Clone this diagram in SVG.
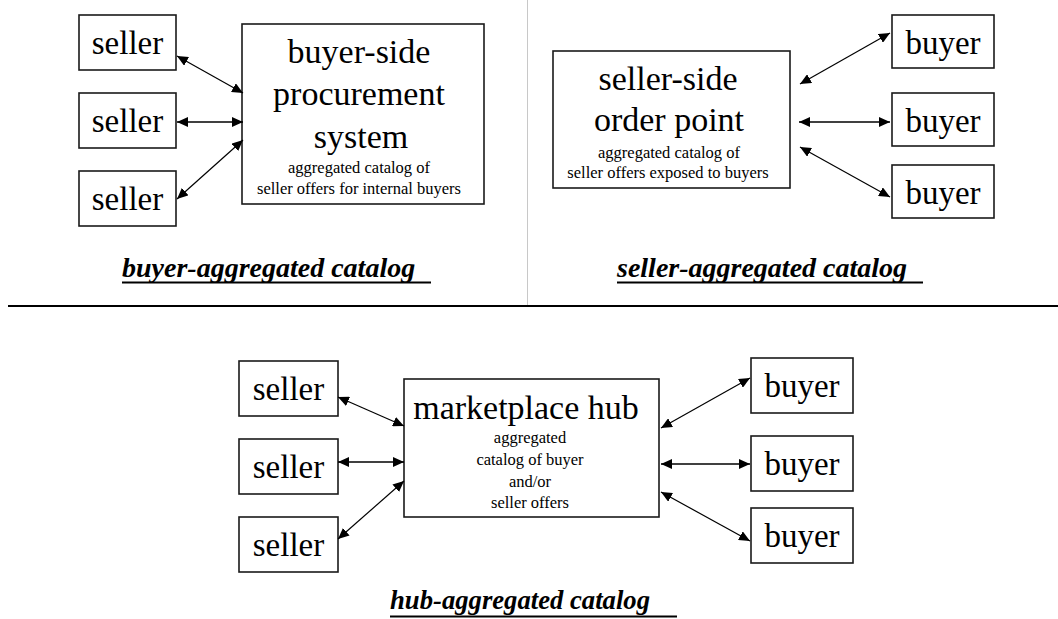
<svg xmlns="http://www.w3.org/2000/svg" width="1058" height="619" viewBox="0 0 1058 619">
  <style>
    text { font-family: 'Liberation Serif', 'DejaVu Serif', serif; fill: #000; }
    .box { fill: #ffffff; stroke: #1a1a1a; stroke-width: 1.6; }
    .big { font-size: 34px; text-anchor: middle; }
    .node { font-size: 33px; text-anchor: middle; }
    .small { font-size: 16.5px; text-anchor: middle; }
    .label { font-size: 28px; font-weight: bold; font-style: italic; }
    .uline { stroke: #000; stroke-width: 2.2; }
    .link { fill: none; stroke: #000; stroke-width: 1.2; marker-start: url(#head); marker-end: url(#head); }
    .link.h { stroke-width: 1.6; }
  </style>
  <defs>
    <marker id="head" markerUnits="userSpaceOnUse" markerWidth="12" markerHeight="10" refX="11" refY="5" orient="auto-start-reverse">
      <path d="M0,0 L11,5 L0,10 Z" fill="#000"/>
    </marker>
  </defs>

  <rect width="1058" height="619" fill="#ffffff"/>

  <!-- section dividers -->
  <g id="dividers">
    <line x1="527.5" y1="0" x2="527.5" y2="305" stroke="#c8c8c8" stroke-width="1"/>
    <line x1="8" y1="306" x2="1058" y2="306" stroke="#000" stroke-width="2.2"/>
  </g>

  <g font-family="'Liberation Serif', 'DejaVu Serif', serif">
  <!-- buyer-aggregated catalog -->
  <g id="ba-seller-1"><rect class="box" x="79" y="15" width="97" height="55"/><text class="node" x="127.5" y="54">seller</text></g>
  <g id="ba-seller-2"><rect class="box" x="79" y="93" width="97" height="55"/><text class="node" x="127.5" y="132">seller</text></g>
  <g id="ba-seller-3"><rect class="box" x="79" y="171" width="97" height="55"/><text class="node" x="127.5" y="210">seller</text></g>
  <g id="ba-procurement">
    <rect class="box" x="242" y="24" width="242" height="180"/>
    <text class="big" x="359" y="63">buyer-side</text>
    <text class="big" x="359" y="105">procurement</text>
    <text class="big" x="361" y="148">system</text>
    <text class="small" x="359" y="173">aggregated catalog of</text>
    <text class="small" x="359" y="194">seller offers for internal buyers</text>
  </g>
  <g id="ba-label">
    <text class="label" x="122" y="277">buyer-aggregated catalog</text>
    <line class="uline" x1="122" y1="282.5" x2="431" y2="282.5"/>
  </g>

  <!-- seller-aggregated catalog -->
  <g id="sa-order-point">
    <rect class="box" x="553" y="51" width="237" height="137"/>
    <text class="big" x="668" y="90">seller-side</text>
    <text class="big" x="669" y="131">order point</text>
    <text class="small" x="669" y="158">aggregated catalog of</text>
    <text class="small" x="668" y="178">seller offers exposed to buyers</text>
  </g>
  <g id="sa-buyer-1"><rect class="box" x="892" y="15" width="102" height="53"/><text class="node" x="943" y="54">buyer</text></g>
  <g id="sa-buyer-2"><rect class="box" x="892" y="93" width="102" height="53"/><text class="node" x="943" y="132">buyer</text></g>
  <g id="sa-buyer-3"><rect class="box" x="892" y="165" width="102" height="53"/><text class="node" x="943" y="204">buyer</text></g>
  <g id="sa-label">
    <text class="label" x="617" y="277">seller-aggregated catalog</text>
    <line class="uline" x1="617" y1="282.5" x2="923" y2="282.5"/>
  </g>

  <!-- hub-aggregated catalog -->
  <g id="hub-seller-1"><rect class="box" x="239" y="361" width="99" height="55"/><text class="node" x="288.5" y="400">seller</text></g>
  <g id="hub-seller-2"><rect class="box" x="239" y="439" width="99" height="55"/><text class="node" x="288.5" y="478">seller</text></g>
  <g id="hub-seller-3"><rect class="box" x="239" y="517" width="99" height="55"/><text class="node" x="288.5" y="556">seller</text></g>
  <g id="hub-marketplace">
    <rect class="box" x="404" y="379" width="255" height="138"/>
    <text class="big" x="526" y="419">marketplace hub</text>
    <text class="small" x="530" y="443">aggregated</text>
    <text class="small" x="530" y="465">catalog of buyer</text>
    <text class="small" x="530" y="487">and/or</text>
    <text class="small" x="530" y="508">seller offers</text>
  </g>
  <g id="hub-buyer-1"><rect class="box" x="751" y="358" width="102" height="55"/><text class="node" x="802" y="397">buyer</text></g>
  <g id="hub-buyer-2"><rect class="box" x="751" y="436" width="102" height="55"/><text class="node" x="802" y="475">buyer</text></g>
  <g id="hub-buyer-3"><rect class="box" x="751" y="508" width="102" height="55"/><text class="node" x="802" y="547">buyer</text></g>
  <g id="hub-label">
    <text class="label" x="390" y="609" textLength="260" lengthAdjust="spacingAndGlyphs">hub-aggregated catalog</text>
    <line class="uline" x1="390" y1="616.5" x2="677" y2="616.5"/>
  </g>
  </g>

  <!-- connectors -->
  <g id="connectors">
    <path class="link" d="M177,56 L243,93"/>
    <path class="link h" d="M177,122 L243,122"/>
    <path class="link" d="M177,199 L243,140"/>

    <path class="link" d="M800,84 L890,33"/>
    <path class="link h" d="M799,122 L890,122"/>
    <path class="link" d="M800,147 L890,197"/>

    <path class="link" d="M338,397 L404,426"/>
    <path class="link h" d="M338,462 L404,462"/>
    <path class="link" d="M338,539 L404,481"/>

    <path class="link" d="M661,428 L750,378"/>
    <path class="link h" d="M661,464 L750,464"/>
    <path class="link" d="M661,492 L750,541"/>
  </g>
</svg>
